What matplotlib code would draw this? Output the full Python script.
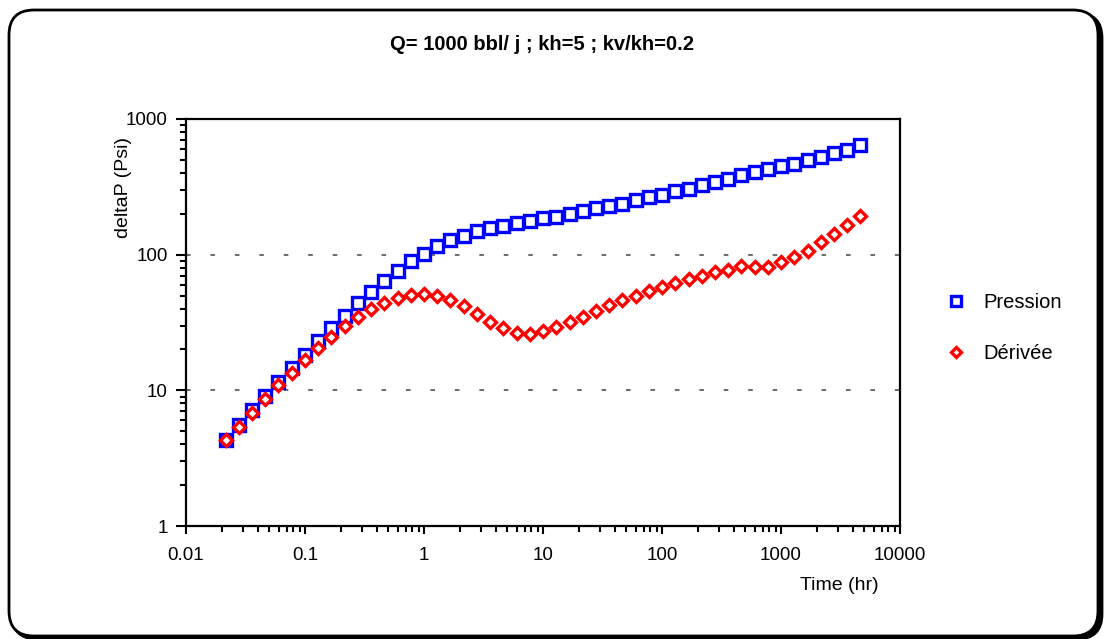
import matplotlib
matplotlib.use("Agg")
import matplotlib.pyplot as plt
from matplotlib.patches import FancyBboxPatch
from matplotlib.transforms import IdentityTransform
from matplotlib.ticker import FixedLocator, FixedFormatter, LogLocator, NullFormatter

plt.rcParams['font.family'] = ['Liberation Sans', 'DejaVu Sans']

# Donnees
time = [0.0215, 0.0278, 0.0359, 0.0464, 0.0599, 0.0774,
        0.1, 0.129, 0.167, 0.215, 0.278, 0.359, 0.464, 0.599, 0.774,
        1, 1.29, 1.67, 2.15, 2.78, 3.59, 4.64, 5.99, 7.74,
        10, 12.9, 16.7, 21.5, 27.8, 35.9, 46.4, 59.9, 77.4,
        100, 129, 167, 215, 278, 359, 464, 599, 774,
        1000, 1290, 1670, 2150, 2780, 3590, 4640]

pression = [4.34, 5.59, 7.21, 9.08, 11.5, 14.6, 18.3, 23.0, 28.9, 35.6,
            43.8, 53.5, 64.4, 75.9, 89.3, 101, 115, 128, 138, 149,
            157, 164, 171, 178, 186, 191, 199, 210, 219, 228,
            237, 253, 267, 277, 294, 307, 327, 344, 364, 386,
            408, 427, 451, 469, 497, 526, 560, 595, 644]

derivee = [4.29, 5.37, 6.81, 8.63, 10.9, 13.5, 16.8, 20.4, 24.8, 29.6,
           34.8, 39.6, 44.4, 48.3, 50.5, 51.1, 49.4, 46.1, 41.5, 36.8,
           32.0, 28.6, 26.5, 26.2, 27.3, 29.2, 32.0, 34.8, 38.7, 42.7,
           46.4, 50.0, 53.7, 58.2, 61.9, 66.6, 70.1, 74.1, 77.1, 82.0,
           81.2, 81.2, 88.3, 96.2, 106, 124, 141, 166, 194]

x_ticks = [0.01, 0.1, 1, 10, 100, 1000, 10000]
x_labels = ["0.01", "0.1", "1", "10", "100", "1000", "10000"]
y_ticks = [1, 10, 100, 1000]
y_labels = ["1", "10", "100", "1000"]

titre = "Q= 1000 bbl/ j ; kh=5 ; kv/kh=0.2"

fig = plt.figure(figsize=(11.05, 6.39), dpi=100)

# cadre arrondi avec ombre
ombre = FancyBboxPatch((12, 0), 1090, 626, boxstyle="round,pad=0,rounding_size=25",
                       transform=IdentityTransform(), facecolor="black",
                       edgecolor="black", lw=2, zorder=0)
cadre = FancyBboxPatch((9, 3), 1089, 626, boxstyle="round,pad=0,rounding_size=25",
                       transform=IdentityTransform(), facecolor="white",
                       edgecolor="black", lw=2, zorder=1)
fig.patches.append(ombre)
fig.patches.append(cadre)

ax = fig.add_axes([0.1683, 0.1768, 0.6462, 0.637])
ax.set_zorder(2)

ax.plot(time, pression, linestyle="none", marker="s", markersize=8,
        markerfacecolor="white", markeredgecolor="#0000FF", markeredgewidth=2.4,
        label="Pression")
ax.plot(time, derivee, linestyle="none", marker="D", markersize=6.3,
        markerfacecolor="white", markeredgecolor="#FF0000", markeredgewidth=2.4,
        label="Dérivée")

ax.set_xscale("log")
ax.set_yscale("log")
ax.set_xlim(0.01, 10000)
ax.set_ylim(1, 1000)

ax.xaxis.set_major_locator(FixedLocator(x_ticks))
ax.xaxis.set_major_formatter(FixedFormatter(x_labels))
ax.yaxis.set_major_locator(FixedLocator(y_ticks))
ax.yaxis.set_major_formatter(FixedFormatter(y_labels))
ax.xaxis.set_minor_locator(LogLocator(base=10, subs=range(2, 10), numticks=20))
ax.yaxis.set_minor_locator(LogLocator(base=10, subs=range(2, 10), numticks=20))
ax.xaxis.set_minor_formatter(NullFormatter())
ax.yaxis.set_minor_formatter(NullFormatter())

ax.tick_params(which="major", direction="out", length=6, width=1.5,
               labelsize=13.5, colors="black")
ax.tick_params(axis="x", which="major", pad=9)
ax.tick_params(axis="y", which="major", pad=6, length=7)
ax.tick_params(which="minor", direction="out", length=4, width=1.5)

for s in ax.spines.values():
    s.set_linewidth(1.6)
    s.set_color("black")

ax.yaxis.grid(True, which="major", color="#444444", linewidth=1.1,
              linestyle=(0, (3, 13)))
ax.set_axisbelow(True)

leg = ax.legend(loc="center left", bbox_to_anchor=(949 / 1105, 1 - 328 / 639),
                bbox_transform=fig.transFigure, frameon=False, fontsize=14.5,
                handlelength=0.7, handletextpad=1.0, labelspacing=1.6,
                borderpad=0, borderaxespad=0, markerscale=0.85)

fig.text(542 / 1105, 1 - 44 / 639, titre, ha="center", va="center",
         fontsize=14.5, fontweight="bold")
fig.text(839 / 1105, 1 - 585 / 639, "Time (hr)", ha="center", va="center",
         fontsize=14)
fig.text(124 / 1105, 1 - 187 / 639, "deltaP (Psi)", ha="center", va="center",
         fontsize=14, rotation=90)

fig.savefig("out.png", dpi=100)
